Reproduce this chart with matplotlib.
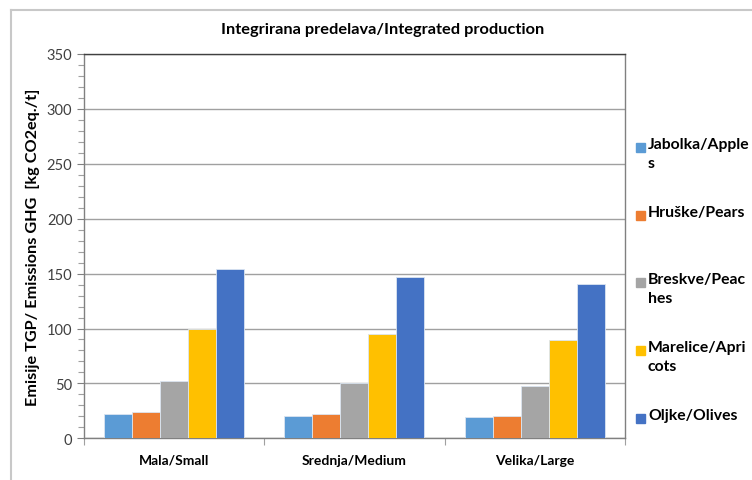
import numpy as np
import matplotlib.pyplot as plt
from matplotlib.lines import Line2D
from matplotlib.patches import Rectangle

plt.rcParams['font.family'] = ['Lato', 'DejaVu Sans']

sizes = ["Mala/Small", "Srednja/Medium", "Velika/Large"]
fruits = ["Jabolka/Apple\ns", "Hruške/Pears", "Breskve/Peac\nhes", "Marelice/Apri\ncots", "Oljke/Olives"]
apples = [22.0, 20.5, 19.0]
pears = [23.5, 22.0, 20.5]
peaches = [52.3, 50.2, 47.5]
apricots = [100.0, 94.7, 89.3]
olives = [154.0, 147.2, 140.7]
colors = ["#5B9BD5", "#ED7D31", "#A5A5A5", "#FFC000", "#4472C4"]

W, H = 752, 481
fig = plt.figure(figsize=(W / 100, H / 100), dpi=100)

# plot area in pixel coordinates
x0, x1, ytop, ybot = 83.5, 625, 55, 439.3
ax = fig.add_axes([x0 / W, (H - ybot) / H, (x1 - x0) / W, (ybot - ytop) / H])

series = [apples, pears, peaches, apricots, olives]
n = len(series)
bw = 1 / (n + 1.46)
x = np.arange(len(sizes))
for i, (vals, c) in enumerate(zip(series, colors)):
    ax.bar(x + (i - (n - 1) / 2) * bw, vals, bw, color=c, edgecolor="#dbe5f1",
           linewidth=0.6, zorder=3)

ax.set_xlim(-0.5, len(sizes) - 0.5)
ax.set_ylim(0, 350)
ax.set_yticks(np.arange(0, 351, 50))
ax.set_yticks(np.arange(0, 351, 10), minor=True)
ax.yaxis.grid(True, which="major", color="#a0a0a0", linewidth=1, zorder=0)
ax.tick_params(axis="y", which="major", length=5, width=0.8, color="#808080",
               labelsize=10.5, labelcolor="#404040", pad=3)
ax.tick_params(axis="y", which="minor", length=4, width=0.8, color="#a0a0a0")

# category labels between boundary ticks
ax.set_xticks(np.arange(-0.5, len(sizes), 1))
ax.set_xticklabels([])
ax.set_xticks(x, minor=True)
ax.set_xticklabels(sizes, minor=True, fontweight="bold", fontsize=10)
ax.tick_params(axis="x", which="major", length=5, width=0.8, color="#a0a0a0")
ax.tick_params(axis="x", which="minor", length=0, pad=11)

for side in ["left", "bottom", "right", "top"]:
    ax.spines[side].set_color("#808080")
    ax.spines[side].set_linewidth(1)
ax.spines["top"].set_color("#404040")

ax.set_ylabel("Emisije TGP/ Emissions GHG  [kg CO2eq./t]", fontweight="bold",
              fontsize=11.7, labelpad=5)

fig.text(383 / W, 1 - 30 / H, "Integrirana predelava/Integrated production",
         ha="center", va="center", fontweight="bold", fontsize=11.8)

# legend entries
ys = [148, 216, 283, 351, 419]
for lab, c, yy in zip(fruits, colors, ys):
    fig.patches.append(Rectangle(((636) / W, 1 - (yy + 4.5) / H), 9 / W, 9 / H,
                                 transform=fig.transFigure, color=c))
    fig.text(648 / W, 1 - (yy - 9.5) / H, lab, ha="left", va="top",
             fontweight="bold", fontsize=11.3, linespacing=1.45)

# outer chart frame
fig.add_artist(Line2D([11 / W, 1], [1 - 11 / H, 1 - 11 / H], color="#c8c8c8",
                      linewidth=1.5, transform=fig.transFigure))
fig.add_artist(Line2D([11 / W, 11 / W], [0, 1 - 11 / H], color="#c8c8c8",
                      linewidth=1.5, transform=fig.transFigure))

fig.savefig("out.png", dpi=100)
